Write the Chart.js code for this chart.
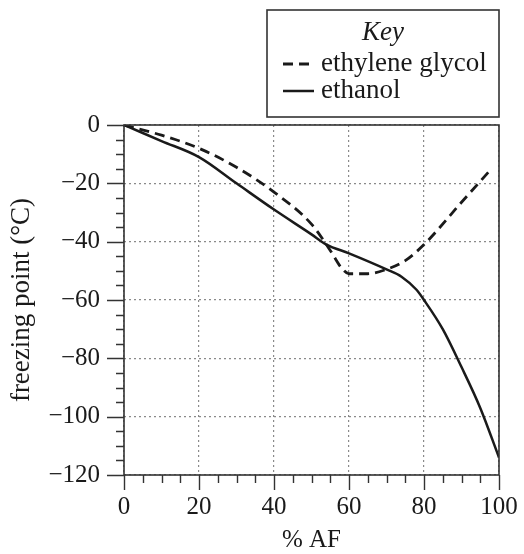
<!DOCTYPE html>
<html><head><meta charset="utf-8">
<script src="https://cdn.jsdelivr.net/npm/chart.js@4/dist/chart.umd.min.js"></script>
<style>html,body{margin:0;padding:0;background:#fff;}#wrap{width:524px;height:554px;}</style>
</head><body><div id="wrap"><canvas id="c" width="524" height="554"></canvas></div>
<script>
// ---- data ----
const glycolX = [0, 10, 20, 30, 40, 50, 55, 58, 60, 65, 70, 75, 80, 90, 98];
const glycolY = [0, -3.5, -8, -14.5, -23, -34, -43, -49, -51, -51, -49.5, -46.5, -41, -26.5, -15];
const ethanolX = [0, 10, 20, 30, 40, 50, 54, 60, 70, 74, 78, 80, 85, 90, 95, 100];
const ethanolY = [0, -5.5, -11, -20, -29, -37.5, -41, -44, -49.5, -52, -56.5, -60, -70, -83, -97, -114];
const xTickValues = [0, 20, 40, 60, 80, 100];
const yTickValues = [0, -20, -40, -60, -80, -100, -120];
const seriesNames = ['ethylene glycol', 'ethanol'];
const legendTitle = 'Key';
const xTitle = '% AF';
const yTitle = 'freezing point (\u00B0C)';

const SERIF = '"Liberation Serif", "Times New Roman", serif';
const INK = '#1a1a1a';
const GRID = '#8a8a8a';

function pts(xs, ys) { return xs.map((v, i) => ({x: v, y: ys[i]})); }
function fmt(v) { return v < 0 ? '\u2212' + Math.abs(v) : String(v); }

const framePlugin = {
  id: 'frame',
  afterDraw(chart) {
    const {ctx, chartArea: a, scales: {x, y}} = chart;
    ctx.save();
    ctx.strokeStyle = '#333';
    ctx.lineWidth = 1.6;
    ctx.setLineDash([]);
    ctx.strokeRect(a.left, a.top, a.right - a.left, a.bottom - a.top);
    ctx.lineWidth = 1.4;
    ctx.beginPath();
    for (let v = x.min; v <= x.max; v += 5) {
      const px = Math.round(x.getPixelForValue(v)) + 0.5;
      const len = xTickValues.includes(v) ? 15 : 8;
      ctx.moveTo(px, a.bottom); ctx.lineTo(px, a.bottom + len);
    }
    for (let v = y.max; v >= y.min; v -= 5) {
      const py = Math.round(y.getPixelForValue(v)) + 0.5;
      const len = yTickValues.includes(v) ? 17 : 8;
      ctx.moveTo(a.left - len, py); ctx.lineTo(a.left, py);
    }
    ctx.stroke();
    ctx.restore();
  }
};

const keyPlugin = {
  id: 'keybox',
  afterDraw(chart) {
    const ctx = chart.ctx;
    const a = chart.chartArea;
    const bx = 267, by = 10, bw = a.right - 267, bh = 107;
    ctx.save();
    ctx.strokeStyle = '#333';
    ctx.lineWidth = 1.6;
    ctx.setLineDash([]);
    ctx.strokeRect(bx, by, bw, bh);
    ctx.fillStyle = INK;
    ctx.textBaseline = 'middle';
    ctx.textAlign = 'center';
    ctx.font = 'italic 27px ' + SERIF;
    ctx.fillText(legendTitle, bx + bw / 2, by + 23);
    ctx.textAlign = 'left';
    ctx.font = '27px ' + SERIF;
    const rows = [by + 54, by + 81];
    chart.data.datasets.forEach((ds, i) => {
      const yy = rows[i];
      ctx.strokeStyle = ds.borderColor;
      ctx.lineWidth = ds.borderWidth;
      ctx.setLineDash(ds.borderDash || []);
      ctx.beginPath();
      ctx.moveTo(283, yy); ctx.lineTo(314, yy);
      ctx.stroke();
      ctx.fillText(ds.label, 321, yy);
    });
    ctx.restore();
  }
};

new Chart(document.getElementById('c'), {
  type: 'line',
  data: {
    datasets: [
      {label: seriesNames[0], data: pts(glycolX, glycolY), borderColor: INK, borderWidth: 2.8,
       borderDash: [10, 6], pointRadius: 0, cubicInterpolationMode: 'monotone', fill: false},
      {label: seriesNames[1], data: pts(ethanolX, ethanolY), borderColor: INK, borderWidth: 2.5,
       pointRadius: 0, cubicInterpolationMode: 'monotone', fill: false}
    ]
  },
  options: {
    responsive: false,
    animation: false,
    devicePixelRatio: 1,
    layout: {padding: {top: 125, right: 25, left: 0, bottom: 0}},
    plugins: {legend: {display: false}, tooltip: {enabled: false}, title: {display: false}},
    scales: {
      x: {
        type: 'linear', min: 0, max: 100,
        afterFit(s) { s.height = 79; s.paddingLeft = 0; s.paddingRight = 0; },
        afterBuildTicks(s) { s.ticks = xTickValues.map(v => ({value: v})); },
        grid: {color: GRID, lineWidth: 1.2, drawTicks: false},
        border: {display: false, dash: [2, 3]},
        ticks: {color: INK, font: {family: SERIF, size: 25}, padding: 17, maxRotation: 0, callback: fmt},
        title: {display: true, text: xTitle, color: INK, font: {family: SERIF, size: 25, lineHeight: 1}, padding: {top: 0, bottom: 1}}
      },
      y: {
        type: 'linear', min: -120, max: 0,
        afterFit(s) { s.width = 124; s.paddingTop = 0; s.paddingBottom = 0; },
        afterBuildTicks(s) { s.ticks = yTickValues.map(v => ({value: v})); },
        grid: {color: GRID, lineWidth: 1.2, drawTicks: false},
        border: {display: false, dash: [2, 3]},
        ticks: {color: INK, font: {family: SERIF, size: 25}, padding: 24, callback: fmt},
        title: {display: true, text: yTitle, color: INK, font: {family: SERIF, size: 27, lineHeight: 1}, padding: {top: 8, bottom: 0}}
      }
    }
  },
  plugins: [framePlugin, keyPlugin]
});
</script>
</body></html>
